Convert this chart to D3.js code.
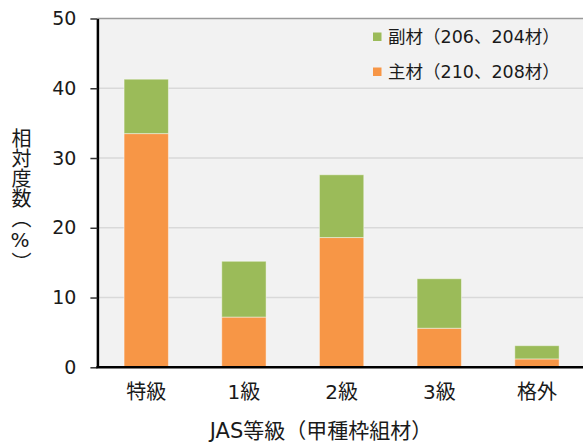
<!DOCTYPE html>
<html>
<head>
<meta charset="utf-8">
<script src="https://cdn.jsdelivr.net/npm/d3@7"></script>
<style>
  html, body { margin: 0; padding: 0; background: #fff; }
  svg { display: block; }
  text { font-family: "DejaVu Sans", "Noto Sans CJK JP", sans-serif; fill: #1a1a1a; }
</style>
</head>
<body>
<svg id="chart" width="583" height="442"></svg>
<script>
// JAS grades of framing lumber
const categories = ["特級", "1級", "2級", "3級", "格外"];
// Relative frequency (%) per grade
const mainValues = [33.5, 7.2, 18.6, 5.6, 1.2];   // 主材 (210, 208)
const subValues  = [7.8, 8.0, 9.0, 7.1, 1.9];     // 副材 (206, 204)
const yTicks = [0, 10, 20, 30, 40, 50];
const seriesNames = ["主材（210、208材）", "副材（206、204材）"];
const seriesColors = ["#F79646", "#9BBB59"];

const svg = d3.select("#chart");
const W = 583, H = 442;
const plotLeft = 97.4, plotRight = 585.8, plotTop = 18.5, plotBottom = 367.3;

const x = d3.scaleBand().domain(categories).range([plotLeft, plotRight])
  .paddingInner(0.546).paddingOuter(0.273);
const y = d3.scaleLinear().domain([0, 50]).range([plotBottom, plotTop]);

// plot area
svg.append("rect")
  .attr("x", plotLeft).attr("y", plotTop)
  .attr("width", plotRight - plotLeft).attr("height", plotBottom - plotTop)
  .attr("fill", "#F2F2F2");

// gridlines
svg.append("g").selectAll("line")
  .data(yTicks.filter(d => d > 0))
  .join("line")
  .attr("x1", plotLeft).attr("x2", W)
  .attr("y1", d => y(d)).attr("y2", d => y(d))
  .attr("stroke", d => d === 50 ? "#9a9a9a" : "#D9D9D9")
  .attr("stroke-width", 1.5);

// stacked bars
const stackData = categories.map((c, i) => ({ cat: c, main: mainValues[i], sub: subValues[i] }));
const stack = d3.stack().keys(["main", "sub"])(stackData);

svg.append("g").selectAll("g")
  .data(stack)
  .join("g")
  .attr("fill", (d, i) => seriesColors[i])
  .selectAll("rect")
  .data(d => d)
  .join("rect")
  .attr("x", d => x(d.data.cat))
  .attr("width", x.bandwidth())
  .attr("y", d => y(d[1]))
  .attr("height", d => y(d[0]) - y(d[1]))
  .attr("stroke", "rgba(255,255,255,0.45)")
  .attr("stroke-width", 1);

// y axis
const yAxis = svg.append("g")
  .attr("transform", `translate(${plotLeft},0)`)
  .call(d3.axisLeft(y).tickValues(yTicks).tickSize(7).tickPadding(14).tickSizeOuter(0));
yAxis.select(".domain").attr("stroke", "#000").attr("stroke-width", 2.5);
yAxis.selectAll(".tick line").attr("stroke", "#333").attr("stroke-width", 1.5);
yAxis.selectAll(".tick text")
  .style("font-size", "19px").attr("fill", "#1a1a1a");

// baseline
svg.append("line")
  .attr("x1", plotLeft - 1).attr("x2", W)
  .attr("y1", y(0)).attr("y2", y(0))
  .attr("stroke", "#000").attr("stroke-width", 2.5);

// x axis labels
const xAxis = svg.append("g")
  .attr("transform", `translate(0,${y(0)})`)
  .call(d3.axisBottom(x).tickSize(0).tickPadding(17.5));
xAxis.select(".domain").remove();
xAxis.selectAll(".tick text").style("font-size", "20px").attr("fill", "#1a1a1a");

// axis titles
svg.append("text")
  .attr("x", 321).attr("y", 438)
  .attr("text-anchor", "middle")
  .style("font-size", "21px")
  .text("JAS等級（甲種枠組材）");

// vertical y title; brackets use the vertical presentation forms
svg.append("text")
  .attr("x", 20).attr("y", 128)
  .style("writing-mode", "vertical-rl")
  .style("text-orientation", "upright")
  .style("font-size", "20px")
  .text("相対度数︵%︶");

// legend (副材 listed first)
const legendItems = [1, 0];
const legend = svg.append("g");
legendItems.forEach((si, row) => {
  const cy = 37 + row * 35;
  legend.append("rect")
    .attr("x", 373).attr("y", cy - 4.5)
    .attr("width", 8.5).attr("height", 8.5)
    .attr("fill", seriesColors[si]);
  legend.append("text")
    .attr("x", 388).attr("y", cy)
    .attr("dominant-baseline", "central")
    .style("font-size", "17.5px")
    .text(seriesNames[si]);
});
</script>
</body>
</html>
